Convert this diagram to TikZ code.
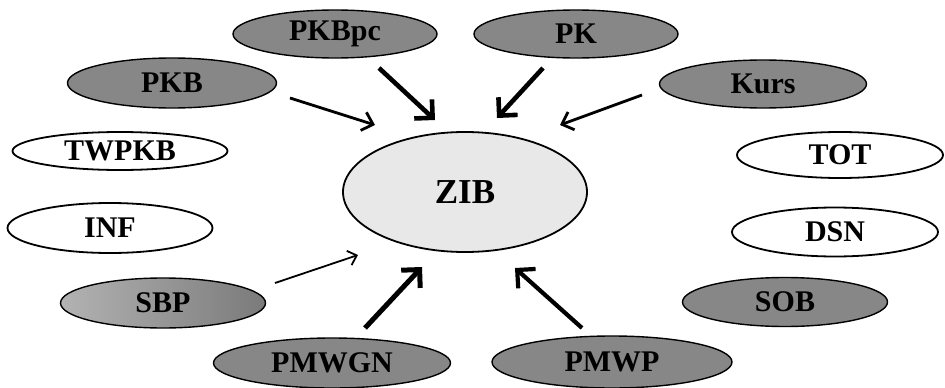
\documentclass[tikz,border=0pt]{standalone}
\usepackage{fontspec}
\setmainfont{Liberation Serif}
\usetikzlibrary{shapes.geometric,arrows.meta,calc}
\begin{document}
\begin{tikzpicture}[x=1pt,y=-1pt,
  base/.style={ellipse, draw=black, inner sep=0pt, font=\fontsize{30}{30}\selectfont\bfseries},
  darkel/.style={base, fill=black!47, line width=1.4pt},
  whiteel/.style={base, fill=white, line width=1.8pt},
  centerel/.style={base, fill=black!9, line width=1.8pt, font=\fontsize{35}{35}\selectfont\bfseries},
  arrthick/.style={draw=black, line width=4.6pt, -{Straight Barb[length=13pt,width=26pt]}},
  arrmid/.style={draw=black, line width=2.8pt, -{Straight Barb[length=10pt,width=19pt]}},
  arrthin/.style={draw=black, line width=1.8pt, -{Straight Barb[length=8pt,width=15pt]}}]
\useasboundingbox (0,0) rectangle (945,388);
\fill[white] (0,0) rectangle (945,388);

\node[centerel, minimum width=244pt, minimum height=120pt] (ZIB) at (465,192) {ZIB};

\node[darkel, minimum width=204pt, minimum height=48pt] (PKBpc) at (335,34) {PKBpc};
\node[darkel, minimum width=204pt, minimum height=48pt] (PK) at (576,34) {PK};
\node[darkel, minimum width=209pt, minimum height=50pt] (PKB) at (172,83) {PKB};
\node[darkel, minimum width=207pt, minimum height=48pt] (Kurs) at (763,84) {Kurs};
\node[whiteel, minimum width=215pt, minimum height=38pt] (TWPKB) at (120,151) {TWPKB};
\node[whiteel, minimum width=206pt, minimum height=46pt] (TOT) at (840,155) {TOT};
\node[whiteel, minimum width=205pt, minimum height=50pt] (INF) at (110,228) {INF};
\node[whiteel, minimum width=206pt, minimum height=49pt] (DSN) at (835,232) {DSN};
\node[base, line width=1.4pt, left color=black!30, right color=black!52, minimum width=205pt, minimum height=50pt] (SBP) at (163,303) {SBP};
\node[darkel, minimum width=205pt, minimum height=49pt] (SOB) at (785,302) {SOB};
\node[darkel, minimum width=237pt, minimum height=50pt] (PMWGN) at (332,363) {PMWGN};
\node[darkel, minimum width=240pt, minimum height=52pt] (PMWP) at (612,362) {PMWP};

\draw[arrthick] ($(PKBpc.center)+(44,34)$) -- ($(ZIB.center)+(-30,-72)$);
\draw[arrthick] ($(PK.center)+(-33,34)$) -- ($(ZIB.center)+(32,-74)$);
\draw[arrmid] ($(PKB.center)+(118,15)$) -- ($(ZIB.center)+(-90,-67)$);
\draw[arrmid] ($(Kurs.center)+(-121,11)$) -- ($(ZIB.center)+(95,-67)$);
\draw[arrthin] ($(SBP.center)+(112,-20)$) -- ($(ZIB.center)+(-107,63)$);
\draw[arrthick, line width=5pt] ($(PMWGN.center)+(33,-35)$) -- ($(ZIB.center)+(-43,75)$);
\draw[arrthick, line width=4.2pt] ($(PMWP.center)+(-30,-34)$) -- ($(ZIB.center)+(50,76)$);
\end{tikzpicture}
\end{document}
